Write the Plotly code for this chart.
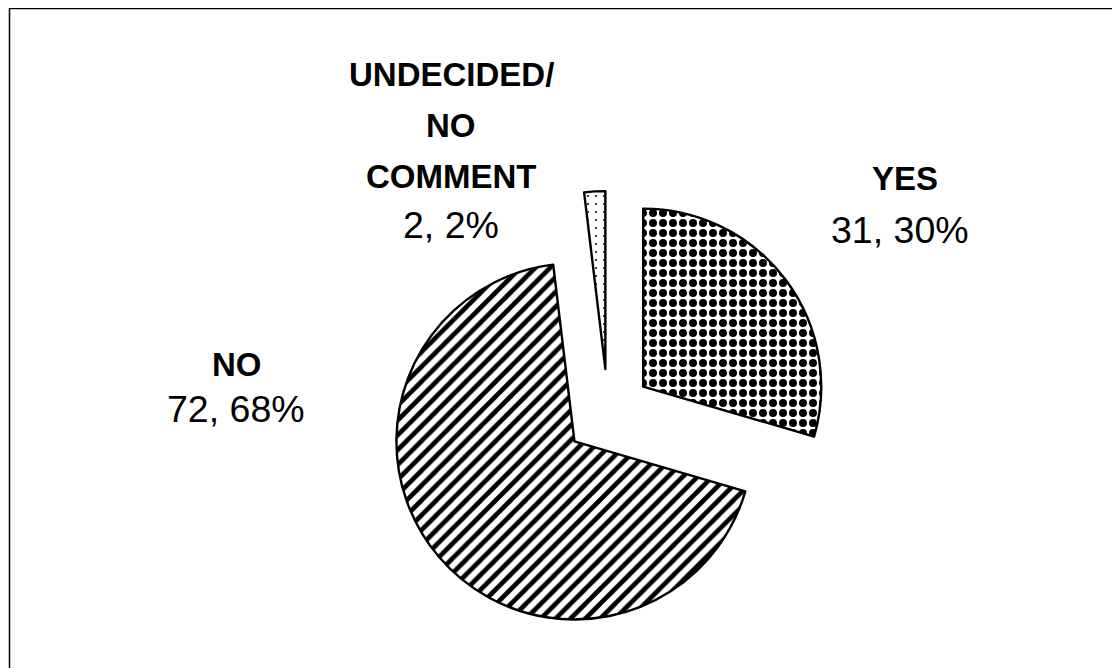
import plotly.graph_objects as go

# Data
categories = ["YES", "NO", "UNDECIDED/NO COMMENT"]
label_lines = [["YES"], ["NO"], ["UNDECIDED/", "NO", "COMMENT"]]
counts = [31, 72, 2]
percents = [30, 68, 2]

W, H = 1120, 668
OX, OY = 8, 8  # page offset of the figure in the browser window


def py(p):
    return 1 - (p - OY) / H


def px(p):
    return (p - OX) / W


fig = go.Figure()
fig.add_trace(go.Pie(
    labels=categories,
    values=counts,
    sort=False,
    direction="clockwise",
    rotation=0,
    pull=[0.247, 0.247, 0.247],
    textinfo="none",
    hoverinfo="label+value+percent",
    showlegend=False,
    domain=dict(x=[px(386), px(830)], y=[py(635), py(191)]),
    marker=dict(
        colors=["white", "white", "white"],
        line=dict(color="black", width=2.4),
        pattern=dict(
            shape=[".", "/", "."],
            size=[10, 10.5, 8],
            solidity=[0.5, 0.45, 0.05],
            fgcolor=["black", "black", "black"],
            bgcolor=["white", "white", "white"],
            fillmode="replace",
        ),
    ),
))

# label placement (pixel centres of each text line in the window)
name_pos = [
    [(905, 180)],
    [(237, 365)],
    [(451, 75), (451, 126), (451, 178)],
]
value_pos = [(900, 231), (236, 410), (451, 226)]

annotations = []
for i in range(len(categories)):
    for line, (x, y) in zip(label_lines[i], name_pos[i]):
        annotations.append(dict(
            x=px(x), y=py(y - 1), xref="paper", yref="paper",
            text=f"<b>{line}</b>", showarrow=False,
            xanchor="center", yanchor="middle",
            font=dict(family="Liberation Sans, Arial, sans-serif", size=33, color="black"),
        ))
    vx, vy = value_pos[i]
    annotations.append(dict(
        x=px(vx), y=py(vy - 1), xref="paper", yref="paper",
        text=f"{counts[i]}, {percents[i]}%", showarrow=False,
        xanchor="center", yanchor="middle",
        font=dict(family="Liberation Sans, Arial, sans-serif", size=37.5, color="black"),
    ))

fig.update_layout(
    width=W, height=H,
    margin=dict(l=0, r=0, t=0, b=0),
    paper_bgcolor="white",
    plot_bgcolor="white",
    annotations=annotations,
    shapes=[dict(
        type="rect", xref="paper", yref="paper",
        x0=px(9.5), y0=-0.02, x1=1.02, y1=py(8.6),
        line=dict(color="black", width=1.5), fillcolor="rgba(0,0,0,0)",
    )],
)

fig.write_html(
    "out.html",
    post_script="document.documentElement.style.overflow='hidden';document.body.style.overflow='hidden';",
)
